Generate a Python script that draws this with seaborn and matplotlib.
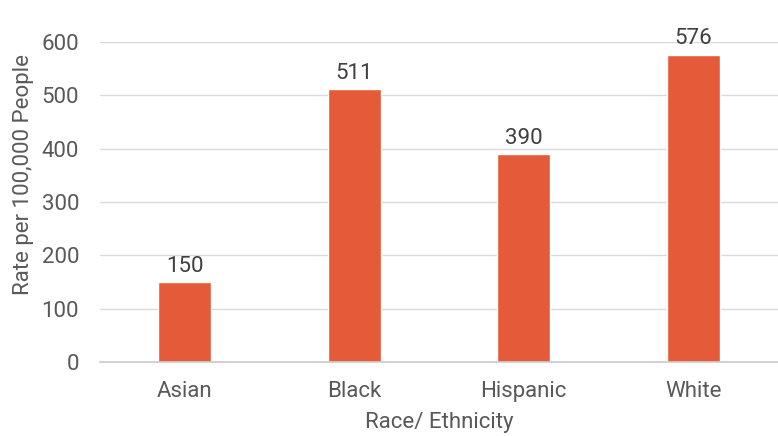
import matplotlib
matplotlib.use("Agg")
import matplotlib.pyplot as plt
import seaborn as sns

groups = ["Asian", "Black", "Hispanic", "White"]
rates = [150, 511, 390, 576]

sns.set_theme(style="whitegrid")
plt.rcParams['font.family'] = ['Roboto', 'DejaVu Sans']

fig = plt.figure(figsize=(7.78, 4.36), dpi=100)
ax = fig.add_axes([100 / 778, 74 / 436, 678 / 778, 320 / 436])

sns.barplot(x=groups, y=rates, color="#E55B39", width=0.31, saturation=1, ax=ax)

for i, v in enumerate(rates):
    ax.text(i, v + 10, str(v), ha="center", va="bottom", fontsize=16, color="#404040")

ax.set_ylim(0, 600)
ax.set_xlim(-0.5, 3.5)
ax.set_yticks(range(0, 601, 100))
ax.grid(axis="y", color="#DADADA", linewidth=1)
ax.grid(axis="x", visible=False)
ax.set_facecolor("white")
for s in ["top", "right", "left"]:
    ax.spines[s].set_visible(False)
ax.spines["bottom"].set_color("#CCCCCC")
ax.tick_params(axis="y", length=0, pad=15, labelsize=16, labelcolor="#595959")
ax.tick_params(axis="x", length=0, pad=14, labelsize=16, labelcolor="#595959")

ax.set_xlabel("Race/ Ethnicity", fontsize=16, color="#595959", labelpad=7)
ax.set_ylabel("Rate per 100,000 People", fontsize=16, color="#595959")
ax.yaxis.set_label_coords(-0.097, 0.585)

fig.savefig("out.png", dpi=100, facecolor="white")
